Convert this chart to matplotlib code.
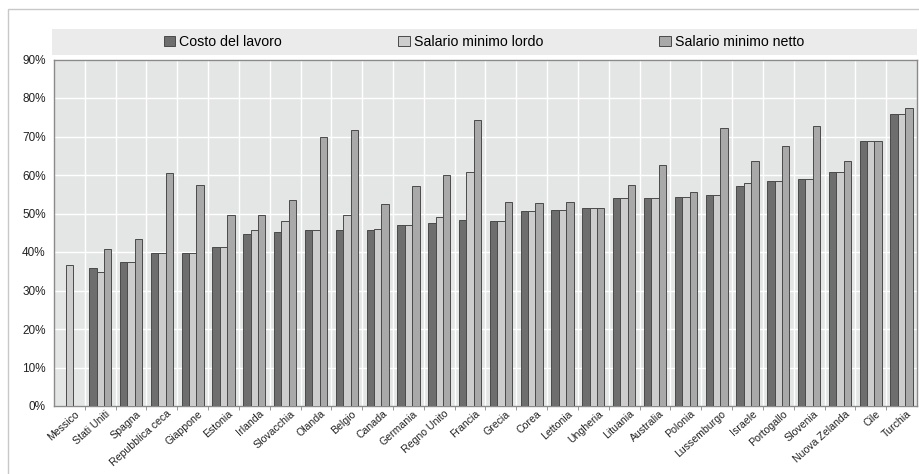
import numpy as np
import matplotlib
matplotlib.use("Agg")
import matplotlib.pyplot as plt
from matplotlib.patches import Rectangle

plt.rcParams['font.family'] = ['Liberation Sans', 'DejaVu Sans']

# data (percent)
paesi = ["Messico", "Stati Uniti", "Spagna", "Repubblica ceca", "Giappone", "Estonia",
         "Irlanda", "Slovacchia", "Olanda", "Belgio", "Canada", "Germania", "Regno Unito",
         "Francia", "Grecia", "Corea", "Lettonia", "Ungheria", "Lituania", "Australia",
         "Polonia", "Lussemburgo", "Israele", "Portogallo", "Slovenia", "Nuova Zelanda",
         "Cile", "Turchia"]
costo_lavoro = [np.nan, 35.8, 37.3, 39.7, 39.7, 41.4, 44.7, 45.1, 45.6, 45.6, 45.8, 46.9, 47.5,
                48.2, 48.1, 50.6, 51.0, 51.3, 53.9, 54.1, 54.4, 54.9, 57.1, 58.5, 59.0, 60.8,
                68.9, 75.8]
salario_lordo = [36.6, 34.9, 37.3, 39.7, 39.7, 41.4, 45.7, 48.0, 45.6, 49.7, 46.0, 46.9, 49.2,
                 60.8, 48.1, 50.6, 51.0, 51.3, 53.9, 54.1, 54.4, 54.9, 57.9, 58.5, 59.0, 60.8,
                 68.9, 75.8]
salario_netto = [np.nan, 40.9, 43.4, 60.5, 57.5, 49.6, 49.7, 53.4, 70.0, 71.6, 52.4, 57.2, 60.0,
                 74.4, 53.0, 52.6, 53.1, 51.3, 57.3, 62.5, 55.5, 72.2, 63.6, 67.5, 72.8, 63.6,
                 68.9, 77.4]
serie = ["Costo del lavoro", "Salario minimo lordo", "Salario minimo netto"]
yticks = [0, 10, 20, 30, 40, 50, 60, 70, 80, 90]

colori = ["#6e6e6e", "#cdcdcd", "#a9a9a9"]

fig = plt.figure(figsize=(9.19, 4.74), dpi=100)
ax = fig.add_axes([54 / 919, 1 - 406 / 474, 863 / 919, (406 - 59.5) / 474])
ax.set_facecolor("#e4e5e5")

x = np.arange(len(paesi))
w = 0.24
for i, (vals, col, lab) in enumerate(zip([costo_lavoro, salario_lordo, salario_netto], colori, serie)):
    ax.bar(x + (i - 1) * w, vals, w, color=col, edgecolor="#4a4a4a", linewidth=0.7,
           label=lab, zorder=3)

ax.set_xlim(-0.5, len(paesi) - 0.5)
ax.set_ylim(0, 90)
ax.set_yticks(yticks)
ax.set_yticklabels([f"{v}%" for v in yticks], fontsize=8.5, color="#222222")
ax.set_xticks(x + 0.15)
ax.set_xticklabels(paesi, rotation=42, ha="right", rotation_mode="anchor", fontsize=7.6,
                   color="#222222")
ax.tick_params(axis="x", which="major", length=0, pad=2)
ax.tick_params(axis="y", length=0, pad=6)
ax.set_xticks(np.arange(0.5, len(paesi) - 0.5, 1), minor=True)
ax.tick_params(axis="x", which="minor", length=3, color="#888888")
ax.grid(axis="y", color="white", linewidth=1.0, zorder=0)
ax.grid(axis="x", which="minor", color="white", linewidth=1.0, zorder=0)
ax.set_axisbelow(True)
for s in ax.spines.values():
    s.set_color("#8a8a8a")
    s.set_linewidth(1.0)

# legend band above the plot
fig.patches.append(Rectangle((52 / 919, 1 - 55 / 474), 865 / 919, 26 / 474,
                             transform=fig.transFigure, facecolor="#ebebeb",
                             edgecolor="none", zorder=0))
handles, labels = ax.get_legend_handles_labels()
leg = fig.legend(handles, labels, loc="center", bbox_to_anchor=(484 / 919, 1 - 42 / 474),
                 ncol=3, frameon=False, fontsize=10.2, handlelength=0.8, handleheight=0.8,
                 handletextpad=0.3, columnspacing=8.2)

# outer frame
fig.patches.append(Rectangle((8 / 919, -0.1), 1.2, 1 - 9 / 474 + 0.1,
                             transform=fig.transFigure, facecolor="none",
                             edgecolor="#c8c8c8", linewidth=1.0))

fig.savefig("out.png", dpi=100)
